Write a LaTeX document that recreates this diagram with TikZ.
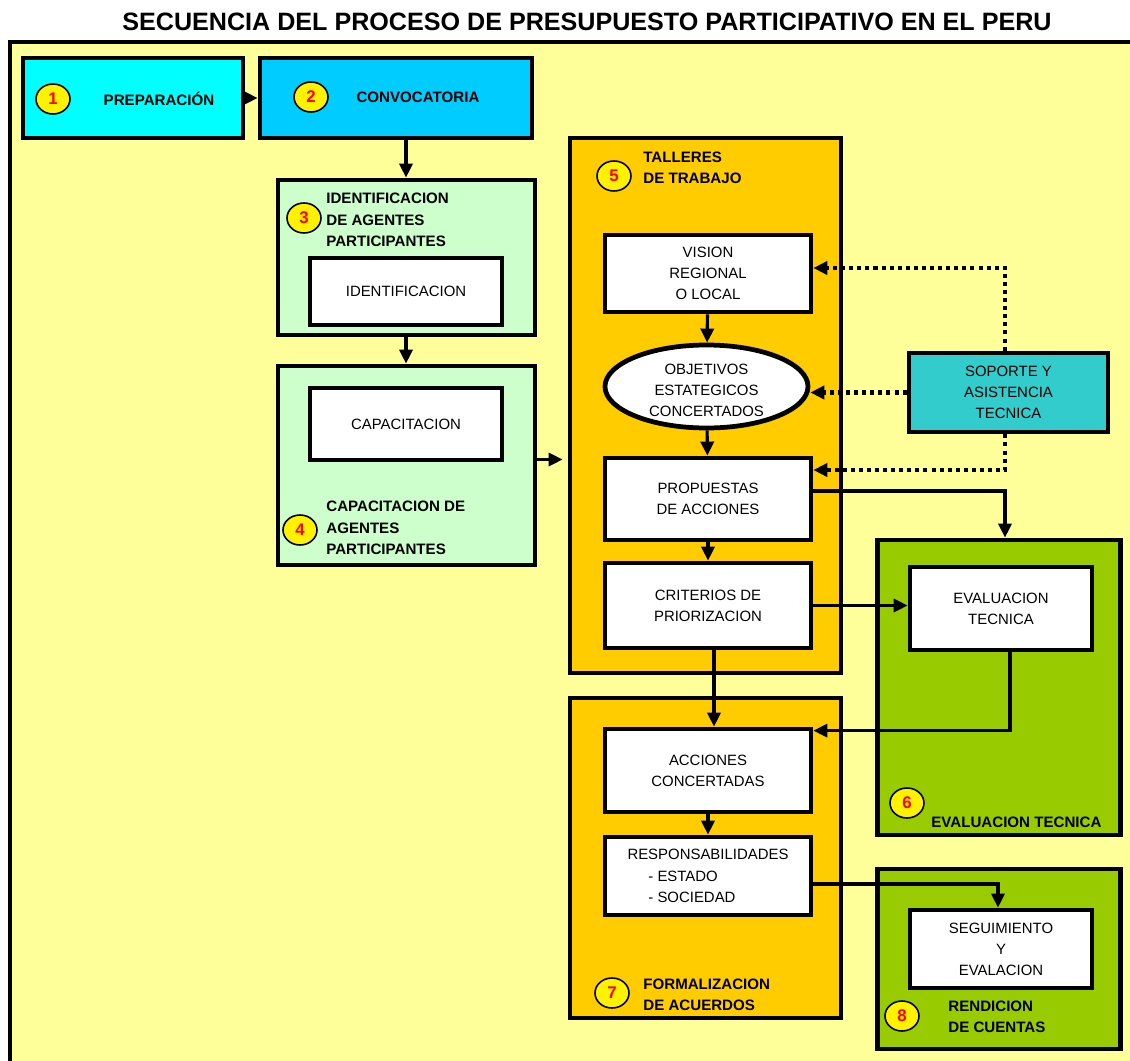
\documentclass[tikz,border=0pt]{standalone}
\usepackage{fontspec}
\setmainfont{Liberation Sans}
\usetikzlibrary{arrows.meta,shapes.geometric}
\definecolor{fondo}{HTML}{FFFF99}
\definecolor{cian}{HTML}{00FFFF}
\definecolor{celeste}{HTML}{00CCFF}
\definecolor{verdeclaro}{HTML}{CCFFCC}
\definecolor{naranja}{HTML}{FFCC00}
\definecolor{verde}{HTML}{99CC00}
\definecolor{turquesa}{HTML}{33CCCC}
\newcommand\fnorm{\fontsize{8.5}{12}\selectfont}
\newcommand\fnegr{\fontsize{8.6}{12.2}\selectfont\bfseries}
\tikzset{
  caja/.style 2 args={draw,line width=2.7pt,minimum width=#1*0.02cm,minimum height=#2*0.02cm,inner sep=0pt,align=center,font=\fnorm},
  num/.style={ellipse,draw,line width=0.9pt,fill=yellow,minimum width=0.68cm,minimum height=0.6cm,inner sep=0pt,text=red,font=\fontsize{9.6}{11}\selectfont\bfseries},
  etiq/.style={inner sep=0pt,align=left,font=\fnegr},
  flecha/.style={-{Triangle[length=8pt,width=7.5pt]},line width=1.8pt},
  puntos/.style={-{Triangle[length=8pt,width=7.5pt]},line width=2.3pt,dash pattern=on 2.3pt off 2.3pt}
}
\begin{document}
\begin{tikzpicture}[x=0.02cm,y=-0.02cm]
	\useasboundingbox[fill=white] (0,0) rectangle (1130,1061);
	% marco de fondo
	\fill[fondo] (10,42) rectangle (1145,1075);
	\draw[line width=2.4pt] (10,1075) -- (10,42) -- (1145,42);
	\node[font=\fontsize{14.3}{17}\selectfont\bfseries] (titulo) at (587,22) {SECUENCIA DEL PROCESO DE PRESUPUESTO PARTICIPATIVO EN EL PERU};
	% 1 y 2
	\node[caja={220}{80},fill=cian] (prep) at (133,98) {};
	\node[num] (n1) at (53,99) {1};
	\node[etiq] (tprep) at (159,99) {PREPARACIÓN};
	\node[caja={272}{80},fill=celeste] (conv) at (396,98) {};
	\node[num] (n2) at (311,97) {2};
	\node[etiq] (tconv) at (418,97) {CONVOCATORIA};
	% 3 y 4
	\node[caja={257}{155},fill=verdeclaro] (ident) at (406.5,257.5) {};
	\node[num] (n3) at (304,218) {3};
	\node[etiq,anchor=west] (tident) at (326,220) {IDENTIFICACION\\DE AGENTES\\PARTICIPANTES};
	\node[caja={192}{67},fill=white] (identin) at (406,291.5) {IDENTIFICACION};
	\node[caja={257}{199},fill=verdeclaro] (capac) at (406.5,465.5) {};
	\node[caja={192}{72},fill=white] (capin) at (406,424) {CAPACITACION};
	\node[num] (n4) at (300,530) {4};
	\node[etiq,anchor=west] (tcapac) at (326,528) {CAPACITACION DE\\AGENTES\\PARTICIPANTES};
	% 5 talleres
	\node[caja={271}{535},fill=naranja] (talleres) at (705.5,405.5) {};
	\node[num] (n5) at (614,176) {5};
	\node[etiq,anchor=west] (ttalleres) at (643,168) {TALLERES\\DE TRABAJO};
	\node[caja={206}{77},fill=white] (vision) at (708,273.5) {VISION\\REGIONAL\\O LOCAL};
	\node[caja={203}{83},fill=white,ellipse] (objet) at (706.5,386.5) {};
	\node[align=center,font=\fnorm,inner sep=0pt] (tobjet) at (706.5,390) {OBJETIVOS\\ESTATEGICOS\\CONCERTADOS};
	\node[caja={206}{82},fill=white] (prop) at (708,499) {PROPUESTAS\\DE ACCIONES};
	\node[caja={206}{85},fill=white] (crit) at (708,605.5) {CRITERIOS DE\\PRIORIZACION};
	% 7 formalizacion
	\node[caja={271}{320},fill=naranja] (formal) at (705.5,858) {};
	\node[caja={206}{83},fill=white] (acc) at (708,770.5) {ACCIONES\\CONCERTADAS};
	\node[caja={206}{78},fill=white,align=left,font=\fontsize{8.5}{12.4}\selectfont] (resp) at (708,876) {RESPONSABILIDADES\\\hspace*{1.4em}- ESTADO\\\hspace*{1.4em}- SOCIEDAD};
	\node[num] (n7) at (612,993) {7};
	\node[etiq,anchor=west] (tformal) at (643,995) {FORMALIZACION\\DE ACUERDOS};
	% 6 evaluacion
	\node[caja={243}{295},fill=verde] (evalbox) at (999,687.5) {};
	\node[caja={182}{83},fill=white] (evalin) at (1001,608.5) {EVALUACION\\TECNICA};
	\node[num] (n6) at (907,803) {6};
	\node[etiq,anchor=west] (teval) at (931,822) {EVALUACION TECNICA};
	% 8 rendicion
	\node[caja={243}{180},fill=verde] (rend) at (999,959) {};
	\node[caja={182}{78},fill=white] (seg) at (1001,949) {SEGUIMIENTO\\Y\\EVALACION};
	\node[num] (n8) at (902,1016) {8};
	\node[etiq,anchor=west] (trend) at (948,1017) {RENDICION\\DE CUENTAS};
	% soporte
	\node[caja={199}{79},fill=turquesa] (soporte) at (1008.5,392.5) {SOPORTE Y\\ASISTENCIA\\TECNICA};
	% flechas
	\draw[flecha] (prep) -- (conv);
	\draw[flecha] (conv.south -| identin) -- (ident.north -| identin);
	\draw[flecha] (ident.south -| identin) -- (capac.north -| identin);
	\draw[flecha] ([yshift=0.12cm]capac.east) -- ([yshift=0.12cm,xshift=-0.1cm]capac.east -| talleres.west);
	\draw[flecha] (vision) -- (objet);
	\draw[flecha] (objet) -- (prop);
	\draw[flecha] (prop) -- (crit);
	\draw[flecha] ([xshift=0.12cm]crit.south) -- ([xshift=0.12cm]acc.north);
	\draw[flecha] (acc) -- (resp);
	\draw[flecha] ([yshift=0.16cm]prop.east) -| ([xshift=0.12cm]evalbox.north);
	\draw[flecha] (crit.east) -- (crit.east -| evalin.west);
	\draw[flecha] ([xshift=0.18cm]evalin.south) |- ([yshift=-0.08cm]acc.north east);
	\draw[flecha] ([yshift=-0.16cm]resp.east) -| ([xshift=-0.06cm]seg.north);
	% soporte punteado
	\draw[puntos] (soporte.west) -- (soporte.west -| objet.east);
	\draw[puntos] ([xshift=-0.07cm]soporte.north) |- ([yshift=0.11cm]vision.east);
	\draw[puntos] ([xshift=-0.07cm]soporte.south) |- ([yshift=0.58cm]prop.east);
\end{tikzpicture}
\end{document}
